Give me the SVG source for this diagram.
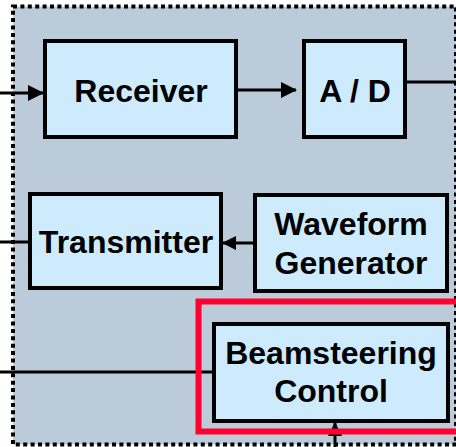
<svg xmlns="http://www.w3.org/2000/svg" width="456" height="447" viewBox="0 0 456 447">
  <style>
    .box { fill: #cdebfc; stroke: #000; stroke-width: 4; }
    .lbl { font-family: "Liberation Sans", Arial, sans-serif; font-weight: bold; font-size: 32px; fill: #000; text-anchor: middle; }
    .wire { stroke: #000; stroke-width: 3; fill: none; }
  </style>
  <defs>
    <marker id="arrow" markerUnits="userSpaceOnUse" viewBox="0 0 16 16" refX="15" refY="8" markerWidth="16" markerHeight="16" orient="auto">
      <path d="M0,0 L16,8 L0,16 Z" fill="#000"/>
    </marker>
    <marker id="arrowSmall" markerUnits="userSpaceOnUse" viewBox="0 0 14 14" refX="13" refY="7" markerWidth="14" markerHeight="14" orient="auto">
      <path d="M0,0 L14,7 L0,14 Z" fill="#000"/>
    </marker>
  </defs>

  <rect width="456" height="447" fill="#ffffff"/>

  <!-- enclosing subsystem boundary -->
  <g id="boundary">
    <rect x="13" y="6.5" width="443" height="438" fill="#bccbd9"/>
    <rect x="13" y="6.5" width="443" height="438" fill="none" stroke="#000" stroke-width="4" stroke-dasharray="4 3.4"/>
  </g>

  <!-- signal paths -->
  <g id="connectors">
    <line class="wire" x1="0" y1="93" x2="43" y2="93" marker-end="url(#arrow)"/>
    <line class="wire" x1="238" y1="90" x2="296" y2="90" marker-end="url(#arrow)"/>
    <line class="wire" x1="407" y1="82" x2="456" y2="82"/>
    <line class="wire" x1="253" y1="243" x2="223" y2="243" marker-end="url(#arrowSmall)"/>
    <line class="wire" x1="28" y1="242" x2="0" y2="242"/>
    <line class="wire" x1="0" y1="372" x2="212" y2="372"/>
    <line class="wire" x1="335" y1="447" x2="335" y2="423" marker-end="url(#arrowSmall)"/>
  </g>

  <g id="receiver">
    <rect class="box" x="45" y="41" width="191" height="96"/>
    <text class="lbl" x="141" y="102">Receiver</text>
  </g>

  <g id="adc">
    <rect class="box" x="304" y="41" width="101" height="96"/>
    <text class="lbl" x="355" y="102">A / D</text>
  </g>

  <g id="transmitter">
    <rect class="box" x="30" y="194" width="191" height="94"/>
    <text class="lbl" x="126" y="253">Transmitter</text>
  </g>

  <g id="waveform-generator">
    <rect class="box" x="255" y="195" width="192" height="96"/>
    <text class="lbl" x="351" y="235">Waveform</text>
    <text class="lbl" x="351" y="274">Generator</text>
  </g>

  <g id="beamsteering-control">
    <rect class="box" x="214" y="324" width="234" height="97"/>
    <text class="lbl" x="331" y="364">Beamsteering</text>
    <text class="lbl" x="331" y="402">Control</text>
  </g>

  <!-- highlight frame -->
  <g id="highlight">
    <rect x="198.5" y="301.5" width="270" height="130" fill="none" stroke="#ff0030" stroke-width="6"/>
  </g>
</svg>
